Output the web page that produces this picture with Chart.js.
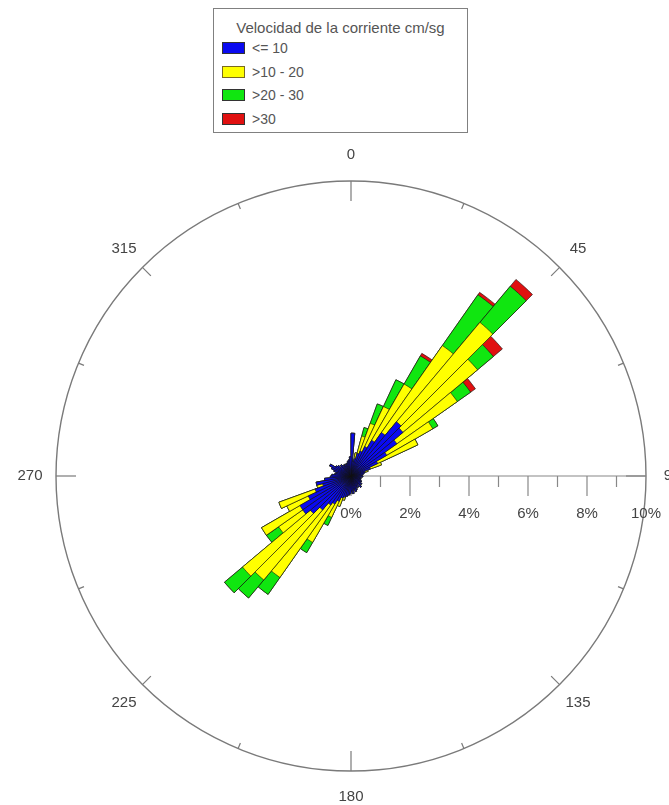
<!DOCTYPE html>
<html>
<head>
<meta charset="utf-8">
<script src="https://cdn.jsdelivr.net/npm/chart.js@4.4.1/dist/chart.umd.min.js"></script>
<style>
html,body{margin:0;padding:0;background:#fff;}
#wrap{position:relative;width:669px;height:805px;overflow:hidden;}
#rose{position:absolute;left:0;top:0;}
#legend{position:absolute;left:213px;top:8px;width:255px;height:125px;border:1px solid #808080;box-sizing:border-box;background:#fff;font-family:"Liberation Sans",Arial,sans-serif;color:#555;}
#legend .title{position:absolute;left:0;right:0;top:11px;text-align:center;font-size:15px;line-height:16px;white-space:nowrap;}
#legend .item{position:absolute;left:8px;height:14px;font-size:14px;line-height:14px;white-space:nowrap;}
#legend .sw{display:inline-block;width:23px;height:12px;border:1px solid #333;box-sizing:border-box;vertical-align:top;margin-top:1px;margin-right:7px;}
</style>
</head>
<body>
<div id="wrap">
<canvas id="rose" width="669" height="805"></canvas>
<div id="legend">
  <div class="title">Velocidad de la corriente cm/sg</div>
  <div class="item" style="top:32px"><span class="sw" style="background:#0a0af0"></span>&lt;= 10</div>
  <div class="item" style="top:56px"><span class="sw" style="background:#ffff00;border-color:#7a6a20"></span>&gt;10 - 20</div>
  <div class="item" style="top:79px"><span class="sw" style="background:#10e610"></span>&gt;20 - 30</div>
  <div class="item" style="top:103px"><span class="sw" style="background:#e01010"></span>&gt;30</div>
</div>
</div>
<script>
// Direction bins (centre of each 5-degree sector)
const directions = [
  "2.5","7.5","12.5","17.5","22.5","27.5","32.5","37.5","42.5","47.5","52.5","57.5",
  "62.5","67.5","72.5","77.5","82.5","87.5","92.5","97.5","102.5","107.5","112.5","117.5",
  "122.5","127.5","132.5","137.5","142.5","147.5","152.5","157.5","162.5","167.5","172.5","177.5",
  "182.5","187.5","192.5","197.5","202.5","207.5","212.5","217.5","222.5","227.5","232.5","237.5",
  "242.5","247.5","252.5","257.5","262.5","267.5","272.5","277.5","282.5","287.5","292.5","297.5",
  "302.5","307.5","312.5","317.5","322.5","327.5","332.5","337.5","342.5","347.5","352.5","357.5"
];
// Frequency (%) per speed class
const speedLE10 = [
  1.45,0.5,0.6,0.8,0.9,1.1,1.4,1.8,2.4,2.3,1.9,1.4,
  1.0,0.7,0.5,0.45,0.4,0.35,0.4,0.3,0.35,0.3,0.35,0.4,
  0.35,0.45,0.4,0.5,0.35,0.45,0.4,0.5,0.55,0.45,0.6,0.5,
  0.6,0.65,0.7,0.75,0.8,0.95,1.1,1.2,1.5,1.8,2.0,2.0,
  1.6,1.3,1.0,1.2,0.9,0.7,0.65,0.55,0.5,0.6,0.7,0.8,
  0.6,0.55,0.45,0.5,0.45,0.4,0.45,0.4,0.45,0.5,0.55,0.65
];
const speed10to20 = [
  0,0,0.2,0.6,1.0,1.5,2.2,3.6,4.4,3.3,2.5,1.8,
  1.5,0.4,0.1,0,0,0,0,0,0,0,0,0,
  0,0,0,0,0,0,0,0,0,0,0,0,
  0,0,0,0.1,0.3,0.6,1.5,3.0,3.1,3.0,1.0,1.5,
  0.8,1.3,0.2,0,0,0,0,0,0,0,0,0,
  0,0,0,0,0,0,0,0,0,0,0,0
];
const speed20to30 = [
  0,0,0,0.3,0.7,1.0,1.1,2.1,1.6,0.7,0.55,0.2,
  0,0,0,0,0,0,0,0,0,0,0,0,
  0,0,0,0,0,0,0,0,0,0,0,0,
  0,0,0,0,0,0.3,0.4,0.7,0.8,0.8,0.5,0,
  0,0,0,0,0,0,0,0,0,0,0,0,
  0,0,0,0,0,0,0,0,0,0,0,0
];
const speedOver30 = [
  0,0,0,0,0,0,0.1,0.1,0.3,0.4,0.2,0,
  0,0,0,0,0,0,0,0,0,0,0,0,
  0,0,0,0,0,0,0,0,0,0,0,0,
  0,0,0,0,0,0,0,0,0,0,0,0,
  0,0,0,0,0,0,0,0,0,0,0,0,
  0,0,0,0,0,0,0,0,0,0,0,0
];
const speedClasses = ["<= 10", ">10 - 20", ">20 - 30", ">30"];
const classColors = ["#0a0af0", "#ffff00", "#10e610", "#e01010"];
const radialTickValues = [0,1,2,3,4,5,6,7,8,9,10];
const radialLabelValues = [0,2,4,6,8,10];
const compassTicks = [0,22.5,45,67.5,90,112.5,135,157.5,180,202.5,225,247.5,270,292.5,315,337.5];
const compassLabels = [0,45,90,135,180,225,270,315];
const rMax = 10;

// stacked (cumulative) values so overlaid sectors read as stacked bars
const classes = [speedLE10, speed10to20, speed20to30, speedOver30];
const cumulative = [];
let running = directions.map(() => 0);
classes.forEach(arr => {
  running = running.map((v, i) => Math.round((v + arr[i]) * 1000) / 1000);
  cumulative.push(running.slice());
});

const datasets = cumulative.map((vals, k) => ({
  label: speedClasses[k],
  data: vals,
  backgroundColor: classColors[k],
  borderColor: '#111',
  borderWidth: 0.6
}));

const roseAxes = {
  id: 'roseAxes',
  beforeDatasetsDraw(chart) {
    const s = chart.scales.r;
    const ctx = chart.ctx;
    const cx = s.xCenter, cy = s.yCenter;
    const R = s.getDistanceFromCenterForValue(rMax);
    ctx.save();
    ctx.strokeStyle = '#7a7a7a';
    ctx.lineWidth = 1.4;
    ctx.beginPath();
    ctx.arc(cx, cy, R, 0, Math.PI * 2);
    ctx.stroke();
    ctx.lineWidth = 1.2;
    compassTicks.forEach(a => {
      const len = a % 90 === 0 ? 20 : (a % 45 === 0 ? 12 : 6);
      const t = (a - 90) * Math.PI / 180;
      ctx.beginPath();
      ctx.moveTo(cx + Math.cos(t) * R, cy + Math.sin(t) * R);
      ctx.lineTo(cx + Math.cos(t) * (R - len), cy + Math.sin(t) * (R - len));
      ctx.stroke();
    });
    ctx.strokeStyle = '#888';
    ctx.lineWidth = 1.2;
    ctx.beginPath();
    ctx.moveTo(cx, cy);
    ctx.lineTo(cx + R, cy);
    ctx.stroke();
    radialTickValues.forEach(v => {
      if (v === rMax) return;
      const x = cx + s.getDistanceFromCenterForValue(v);
      const len = v % 2 === 0 ? 20 : 11;
      ctx.beginPath();
      ctx.moveTo(x, cy);
      ctx.lineTo(x, cy + len);
      ctx.stroke();
    });
    ctx.restore();
  },
  afterDraw(chart) {
    const s = chart.scales.r;
    const ctx = chart.ctx;
    const cx = s.xCenter, cy = s.yCenter;
    const R = s.getDistanceFromCenterForValue(rMax);
    ctx.save();
    ctx.fillStyle = '#444';
    ctx.font = '15px "Liberation Sans", Arial, sans-serif';
    ctx.textAlign = 'center';
    ctx.textBaseline = 'middle';
    compassLabels.forEach(a => {
      const t = (a - 90) * Math.PI / 180;
      const rr = R + 26;
      ctx.fillText(String(a), cx + Math.cos(t) * rr, cy + Math.sin(t) * rr);
    });
    radialLabelValues.forEach(v => {
      const x = cx + s.getDistanceFromCenterForValue(v);
      ctx.fillText(v + '%', x, cy + 38);
    });
    ctx.restore();
  }
};

new Chart(document.getElementById('rose'), {
  type: 'polarArea',
  data: { labels: directions, datasets: datasets },
  options: {
    responsive: false,
    animation: false,
    devicePixelRatio: 1,
    layout: { padding: { left: 56, right: 23, top: 181, bottom: 33 } },
    plugins: { legend: { display: false }, tooltip: { enabled: false } },
    scales: {
      r: {
        min: 0,
        max: rMax,
        startAngle: 0,
        ticks: { display: false },
        grid: { display: false },
        angleLines: { display: false },
        pointLabels: { display: false }
      }
    }
  },
  plugins: [roseAxes]
});
</script>
</body>
</html>
